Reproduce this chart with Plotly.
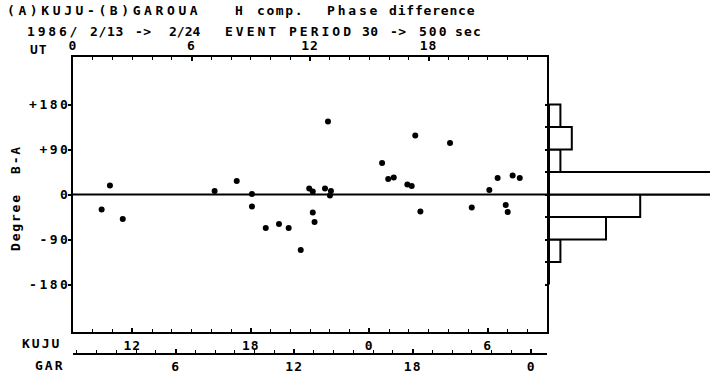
import numpy as np
import plotly.graph_objects as go

# ---------------- data ----------------
ut_hours = [1.45, 1.87, 2.52, 7.17, 8.29, 9.06, 9.06, 9.76, 10.43, 10.92,
            11.53, 11.96, 12.14, 12.14, 12.23, 12.91, 12.76, 13.06, 13.01,
            15.65, 15.96, 16.24, 16.93, 17.15, 17.33, 17.59, 19.09, 20.19,
            21.08, 21.50, 21.91, 22.01, 22.26, 22.62]
phase_deg = [-30, 18, -49, 7, 27, 1, -24, -67, -59, -67,
             -111, 12, 6, -36, -55, 146, 12, 7, -2,
             63, 31, 34, 20, 17, 118, -34, 103, -26,
             9, 33, -21, -35, 38, 33]

ut_ticks = [0, 6, 12, 18]
ut_ticktext = ["0", "6", "12", "18"]
kuju_offset = 9.0          # KUJU local time = UT + 9 h
kuju_ticks = [12, 18, 24, 30]
kuju_ticktext = ["12", "18", "0", "6"]
gar_offset = 0.8           # GAROUA local time ~ UT + 0.8 h
gar_ticks = [6, 12, 18, 24]
gar_ticktext = ["6", "12", "18", "0"]
deg_ticks = [180, 90, 0, -90, -180]
deg_ticktext = ["+180", "+90", "0", "-90", "-180"]
hist_edges = [-180, -135, -90, -45, 0, 45, 90, 135, 180]

counts, _ = np.histogram(phase_deg, bins=hist_edges)
centers = [e + 22.5 for e in hist_edges[:-1]]

# ---------------- geometry helpers ----------------
FW, FH = 710, 376
L, T = 73, 57
W, H = FW - L, FH - T


def fx(p):
    return (p - L) / W


def fy(p):
    return (FH - p) / H


FONT = "DejaVu Sans Mono"


def sp(t, s):
    return f'<b><span style="letter-spacing:{s}px">{t}</span></b>'


main_dom = [0, fx(547)]
hist_dom = [fx(549), 1]
ydom = [fy(332), 1]
yr = [-275, 275]
tfont = dict(family=FONT, size=13, color="black")

fig = go.Figure()
fig.add_trace(go.Scatter(x=ut_hours, y=phase_deg, mode="markers",
                         marker=dict(size=6, color="black"),
                         xaxis="x", yaxis="y", showlegend=False, hoverinfo="skip"))
# invisible traces to materialise the local-time axes
fig.add_trace(go.Scatter(x=kuju_ticks, y=[0] * len(kuju_ticks), mode="markers",
                         marker=dict(opacity=0), xaxis="x3", yaxis="y",
                         showlegend=False, hoverinfo="skip"))
fig.add_trace(go.Scatter(x=gar_ticks, y=[0] * len(gar_ticks), mode="markers",
                         marker=dict(opacity=0), xaxis="x4", yaxis="y",
                         showlegend=False, hoverinfo="skip"))
# histogram
fig.add_trace(go.Bar(y=centers, x=counts, base=0, width=45, orientation="h",
                     marker=dict(color="white", line=dict(color="black", width=2)),
                     xaxis="x2", yaxis="y2", showlegend=False, hoverinfo="skip"))

common_x = dict(showgrid=False, zeroline=False, linecolor="black", linewidth=2,
                tickcolor="black", tickwidth=2, tickfont=tfont, fixedrange=True,
                automargin=False)

fig.update_layout(
    width=FW, height=FH,
    margin=dict(l=L, r=0, t=T, b=0, pad=0, autoexpand=False),
    paper_bgcolor="white", plot_bgcolor="white",
    showlegend=False,
    bargap=0,
    xaxis=dict(domain=main_dom, range=[0, 24], side="top", anchor="y",
               showline=True, ticks="inside", ticklen=4,
               tickvals=ut_ticks, ticktext=[sp(t, 1) for t in ut_ticktext],
               minor=dict(dtick=1, ticks="inside", ticklen=3, tickwidth=1,
                          tickcolor="black"),
               **common_x),
    xaxis3=dict(overlaying="x", range=[kuju_offset, 24 + kuju_offset], side="bottom",
                anchor="y", showline=True, ticks="inside", ticklen=4,
                tickvals=kuju_ticks, ticktext=[sp(t, 1) for t in kuju_ticktext],
                minor=dict(dtick=1, ticks="inside", ticklen=3, tickwidth=1,
                           tickcolor="black"),
                **common_x),
    xaxis4=dict(overlaying="x", range=[gar_offset, 24 + gar_offset], side="bottom",
                anchor="free", position=fy(354), showline=True, ticks="inside",
                ticklen=4, tickvals=gar_ticks,
                ticktext=[sp(t, 1) for t in gar_ticktext],
                minor=dict(dtick=1, ticks="inside", ticklen=3, tickwidth=1,
                           tickcolor="black"),
                **common_x),
    xaxis2=dict(domain=hist_dom, range=[0, 161 / 11.4], anchor="y2",
                showline=False, showticklabels=False, ticks="",
                showgrid=False, zeroline=False, fixedrange=True, automargin=False),
    yaxis=dict(domain=ydom, range=yr, anchor="x", showline=True, mirror=True,
               linecolor="black", linewidth=2, ticks="outside", ticklen=3,
               tickwidth=2, tickcolor="black", ticklabelstandoff=-5,
               tickvals=deg_ticks, ticktext=[sp(t, 2.5) for t in deg_ticktext],
               tickfont=tfont, showgrid=False, zeroline=False, fixedrange=True,
               automargin=False),
    yaxis2=dict(domain=ydom, range=yr, anchor="x2", showline=False,
                ticks="outside", ticklen=3, tickwidth=2, tickcolor="black",
                tickvals=hist_edges, showticklabels=False,
                showgrid=False, zeroline=False, fixedrange=True, automargin=False),
)

# zero line across plot and histogram
fig.add_shape(type="line", xref="paper", yref="y", x0=0, x1=1, y0=0, y1=0,
              line=dict(color="black", width=2), layer="below")

ann = []


def word(text, x, y, s=2.5, size=13):
    ann.append(dict(text=sp(text, s), x=fx(x), y=fy(y), xref="paper", yref="paper",
                    xanchor="left", yanchor="middle", showarrow=False,
                    font=dict(family=FONT, size=size, color="black")))


# title line 1
word("(A)KUJU-(B)GAROUA", 5, 11, 3.6)
word("H", 233, 11)
word("comp.", 255, 11, 1.6)
word("Phase", 325, 11, 2.8)
word("difference", 387, 11, 0.8)
# title line 2
word("1986/", 25, 31, 2.8)
word("2/13", 88, 31, 0.7)
word("-&gt;", 133, 31, 0.5)
word("2/24", 167, 31, 0)
word("EVENT", 223, 31, 3)
word("PERIOD", 287, 31, 3)
word("30", 360, 31, 0.5)
word("-&gt;", 388, 31, 0.5)
word("500", 417, 31, 2)
word("sec", 453, 31, 1.2)
# axis name labels
word("UT", 28, 49, 1)
word("KUJU", 20, 343, 2)
word("GAR", 33, 365, 2)

ann.append(dict(text=sp("Degree&nbsp;&nbsp;B-A", 1.8), x=fx(15), y=fy(198),
                xref="paper", yref="paper", xanchor="center", yanchor="middle",
                textangle=-90, showarrow=False,
                font=dict(family=FONT, size=13, color="black")))

fig.update_layout(annotations=ann)

fig.write_html("out.html",
               config={"displayModeBar": False, "staticPlot": True},
               post_script="document.body.style.margin='0px';"
                           "document.body.style.overflow='hidden';")
